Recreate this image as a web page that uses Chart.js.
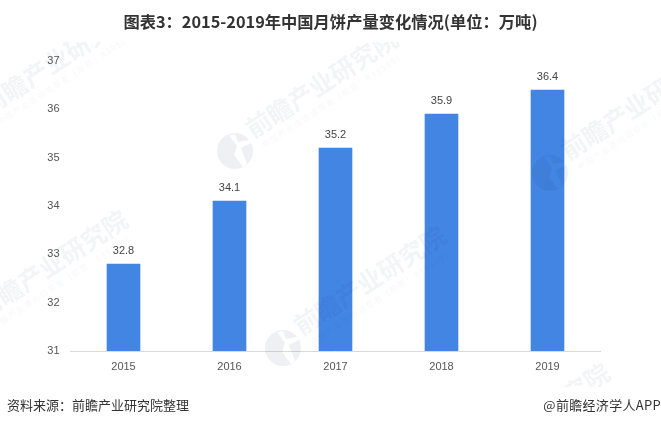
<!DOCTYPE html>
<html>
<head>
<meta charset="utf-8">
<script src="https://cdn.jsdelivr.net/npm/chart.js@4"></script>
<style>
    html, body { margin: 0; padding: 0; background: #fff; }
    #wrap { position: relative; width: 661px; height: 426px; overflow: hidden; font-family: "Noto Sans CJK SC", sans-serif; }
    #chart { position: absolute; left: 0; top: 0; }
    #title { position: absolute; left: 0; width: 661px; top: 10px; text-align: center; font-size: 16.3px; line-height: 22px; font-weight: 700; color: #333; white-space: nowrap; }
    #source { position: absolute; left: 7px; top: 396px; font-size: 13px; line-height: 18px; color: #333; white-space: nowrap; }
    #brand { position: absolute; right: 0; top: 396px; font-size: 13px; line-height: 18px; letter-spacing: .3px; color: #333; white-space: nowrap; }
</style>
</head>
<body>
<div id="wrap">
    <canvas id="chart" width="661" height="426"></canvas>
    <div id="title">图表3：2015-2019年中国月饼产量变化情况(单位：万吨)</div>
    <div id="source">资料来源：前瞻产业研究院整理</div>
    <div id="brand">@前瞻经济学人APP</div>
</div>
<script>
const years = ['2015', '2016', '2017', '2018', '2019'];
const output = [32.8, 34.1, 35.2, 35.9, 36.4];
const yMin = 31;
const yMax = 37;

// translucent watermark, it sits on top of the bars in the reference
const watermark = {
    id: 'watermark',
    afterDatasetsDraw(chart) {
        const ctx = chart.ctx;
        const stamps = [[-30, 128], [235, 151], [550, 173], [-35, 332], [283, 348], [447, 485]];
        const notch = [[-6, -16], [2, -5], [-1, 4], [8, 16], [12, 13], [6, -3], [16, -8], [14, -11], [3, -9], [0, -17]];
        ctx.save();
        ctx.beginPath();
        ctx.rect(0, 42, 661, 345);
        ctx.clip();
        stamps.forEach(s => {
            ctx.save();
            ctx.translate(s[0], s[1]);

            ctx.fillStyle = 'rgba(40, 60, 110, 0.08)';
            ctx.beginPath();
            ctx.arc(0, 0, 18, 0, Math.PI * 2);
            notch.forEach((p, i) => {
                if (i === 0) ctx.moveTo(p[0], p[1]);
                else ctx.lineTo(p[0], p[1]);
            });
            ctx.closePath();
            ctx.fill('evenodd');

            ctx.rotate(-33 * Math.PI / 180);
            ctx.textBaseline = 'alphabetic';
            ctx.fillStyle = 'rgba(40, 60, 110, 0.055)';
            ctx.font = '700 25px "Noto Sans CJK SC"';
            ctx.fillText('前瞻产业研究院', 22, 0);
            ctx.fillStyle = 'rgba(40, 60, 110, 0.045)';
            ctx.font = '8px "Noto Sans CJK SC"';
            ctx.letterSpacing = '1.5px';
            ctx.fillText('中国产业咨询领导者（股票：839599）', 26, 14);
            ctx.restore();
        });
        ctx.restore();
    }
};

// value above each bar
const barValues = {
    id: 'barValues',
    afterDatasetsDraw(chart) {
        const ctx = chart.ctx;
        ctx.save();
        ctx.font = '11px "Liberation Sans"';
        ctx.fillStyle = '#444';
        ctx.textAlign = 'center';
        ctx.textBaseline = 'alphabetic';
        chart.getDatasetMeta(0).data.forEach((bar, i) => {
            ctx.fillText(output[i].toFixed(1), bar.x, bar.y - 10);
        });
        ctx.restore();
    }
};

new Chart(document.getElementById('chart').getContext('2d'), {
    type: 'bar',
    data: {
        labels: years,
        datasets: [{
            data: output,
            backgroundColor: '#4285e3',
            barThickness: 33,
            borderWidth: 0
        }]
    },
    options: {
        responsive: false,
        animation: false,
        layout: { padding: { top: 61, right: 60.5, bottom: 0, left: 0 } },
        plugins: { legend: { display: false }, tooltip: { enabled: false } },
        scales: {
            x: {
                grid: { display: false, drawTicks: false },
                border: { color: '#d9d9d9', width: 1 },
                ticks: { color: '#555', padding: 9, font: { family: 'Liberation Sans', size: 11 } },
                afterFit(scale) { scale.height = 75; }
            },
            y: {
                min: yMin,
                max: yMax,
                grid: { display: false, drawTicks: false },
                border: { display: false },
                ticks: { stepSize: 1, color: '#555', padding: 11, font: { family: 'Liberation Sans', size: 11 } },
                afterFit(scale) { scale.width = 70.5; }
            }
        }
    },
    plugins: [watermark, barValues]
});
</script>
</body>
</html>
